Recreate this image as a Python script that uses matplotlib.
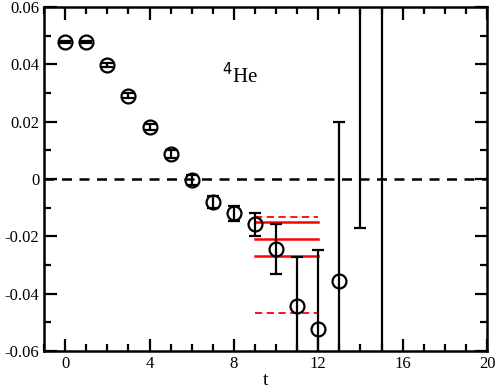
import matplotlib
matplotlib.use("Agg")
import matplotlib.pyplot as plt
from matplotlib.ticker import MultipleLocator, FuncFormatter

plt.rcParams["font.family"] = ["Liberation Serif", "DejaVu Serif"]

t = [0, 1, 2, 3, 4, 5, 6, 7, 8, 9, 10, 11, 12, 13, 14, 15]
meff = [0.0478, 0.0478, 0.0398, 0.0290, 0.0181, 0.0087, -0.0003, -0.0080, -0.0120,
        -0.0157, -0.0244, -0.0443, -0.0523, -0.0356, 0.0700, 0.0800]
err_lo = [0.0004, 0.0004, 0.0006, 0.0009, 0.0010, 0.0014, 0.0018, 0.0020, 0.0025,
          0.0043, 0.0088, 0.0600, 0.0600, 0.0600, 0.0871, 0.2000]
err_hi = [0.0004, 0.0004, 0.0006, 0.0009, 0.0010, 0.0014, 0.0018, 0.0020, 0.0025,
          0.0037, 0.0087, 0.0171, 0.0275, 0.0555, 0.0871, 0.2000]

fit_t = [9, 12]
fit_solid = [-0.0150, -0.0210, -0.0269]
fit_dashed = [-0.0131, -0.0466]

fig = plt.figure(figsize=(4.98, 3.9), dpi=100)
ax = fig.add_axes([0.0884, 0.1, 0.8896, 0.882])

ax.axhline(0, color="black", ls=(0, (4, 3)), lw=1.8)

for y in fit_solid:
    ax.plot(fit_t, [y, y], color="red", lw=1.8)
for y in fit_dashed:
    ax.plot(fit_t, [y, y], color="red", lw=1.3, ls=(0, (4, 2.5)))

ax.errorbar(t, meff, yerr=[err_lo, err_hi], fmt="o", mfc="none", mec="black",
            ms=10, mew=1.6, ecolor="black", elinewidth=1.6, capsize=4.5, capthick=1.6)

ax.text(7.45, 0.036, r"$^{4}$He", fontsize=15, ha="left", va="center")

ax.set_xlim(-1, 20)
ax.set_ylim(-0.06, 0.06)
ax.xaxis.set_major_locator(MultipleLocator(4))
ax.xaxis.set_minor_locator(MultipleLocator(1))
ax.yaxis.set_major_locator(MultipleLocator(0.02))
ax.yaxis.set_minor_locator(MultipleLocator(0.01))
ax.yaxis.set_major_formatter(FuncFormatter(lambda v, p: "0" if abs(v) < 1e-9 else f"{v:.2f}"))
ax.tick_params(which="both", direction="in", top=True, right=True, width=1.6, labelsize=12)
ax.tick_params(which="major", length=9)
ax.tick_params(which="minor", length=5)
for s in ax.spines.values():
    s.set_linewidth(1.8)
ax.set_xlabel("t", fontsize=14, labelpad=0)

fig.savefig("out.png", dpi=100)
